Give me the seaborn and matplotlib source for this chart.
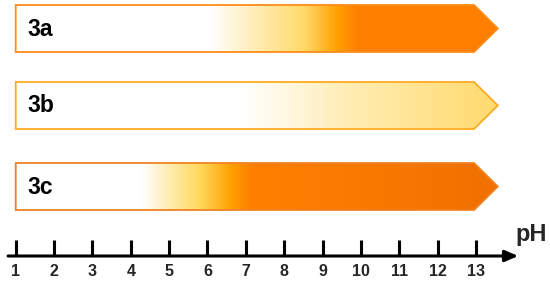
import numpy as np
import matplotlib
matplotlib.use('Agg')
import matplotlib.pyplot as plt
from matplotlib.colors import LinearSegmentedColormap
from matplotlib.patches import Polygon
import seaborn as sns

sns.set_theme(style="white")
plt.rcParams['font.family'] = ['Liberation Sans', 'DejaVu Sans']

# bar labels and gradient stops (pH position, colour)
labels = ["3a", "3b", "3c"]
stops_3a = [(1.0, "#FFFFFF"), (6.05, "#FFFFFF"), (6.8, "#FFF3D0"), (8.5, "#FFDA6A"),
            (9.38, "#FFA000"), (9.9, "#FF8000"), (13.57, "#FF8000")]
stops_3b = [(1.0, "#FFFFFF"), (6.9, "#FFFFFF"), (9.7, "#FFEDB4"), (13.57, "#FFDA6C")]
stops_3c = [(1.0, "#FFFFFF"), (4.25, "#FFFFFF"), (5.8, "#FFD85A"), (6.6, "#FFA000"),
            (7.1, "#FF8000"), (10.0, "#F87A00"), (13.57, "#F07000")]
stops = [stops_3a, stops_3b, stops_3c]
edge_colors = ["#FF8C1A", "#FFAA22", "#F08224"]
ph_ticks = list(range(1, 14))

# layout (y in pixel-like units, 0 at top)
row_top = [5, 82, 163]
row_bottom = [52, 129, 210]
bar_start, body_end, tip = 1.0, 12.95, 13.57
axis_y = 256

fig = plt.figure(figsize=(5.5, 2.83), dpi=100)
ax = fig.add_axes([0, 0, 1, 1])
ax.set_xlim(0.59, 14.93)
ax.set_ylim(283, 0)
ax.axis('off')

xs = np.linspace(bar_start, tip, 600)
for lab, st, ec, t, b in zip(labels, stops, edge_colors, row_top, row_bottom):
    pos = np.clip([(p - bar_start) / (tip - bar_start) for p, _ in st], 0, 1)
    pos[0], pos[-1] = 0.0, 1.0
    cmap = LinearSegmentedColormap.from_list(lab, list(zip(pos, [c for _, c in st])))
    img = ax.imshow(xs[None, :], cmap=cmap, aspect='auto',
                    extent=[bar_start, tip, b, t], interpolation='bilinear', zorder=1)
    mid = (t + b) / 2
    poly = Polygon([(bar_start, t), (body_end, t), (tip, mid), (body_end, b), (bar_start, b)],
                   closed=True, facecolor='none', edgecolor=ec, lw=1.3, zorder=2)
    ax.add_patch(poly)
    img.set_clip_path(poly)
    ax.text(1.3, mid + 0.5, lab, fontsize=16.5, fontweight='bold', color='black',
            va='center', ha='left', zorder=3)

# pH axis
ax.annotate("", xy=(14.1, axis_y), xytext=(0.8, axis_y),
            arrowprops=dict(arrowstyle='-|>,head_length=0.65,head_width=0.28',
                            color='black', lw=2.2, shrinkA=0, shrinkB=0))
for p in ph_ticks:
    ax.plot([p, p], [axis_y, axis_y - 16], color='black', lw=2.2, solid_capstyle='butt')
    ax.text(p, 272, str(p), fontsize=11.5, fontweight='bold', ha='center', va='center')
ax.text(14.43, 235, "pH", fontsize=17, fontweight='bold', ha='center', va='center')

fig.savefig("out.png", dpi=100)
